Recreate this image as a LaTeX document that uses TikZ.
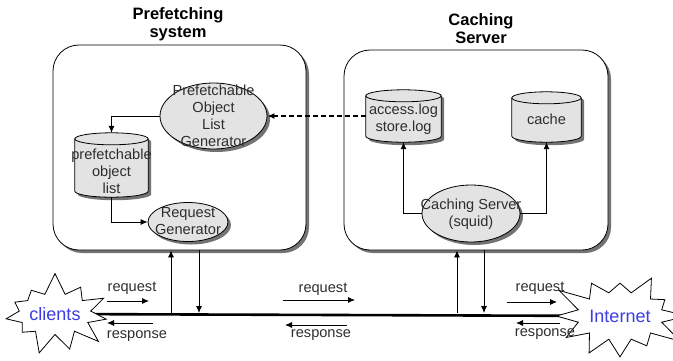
\documentclass[tikz,border=0pt]{standalone}
\usepackage{fontspec}
\setmainfont{Liberation Sans}
\usetikzlibrary{shapes.geometric,shapes.symbols,shadows,arrows.meta,calc}
\pgfdeclarelayer{bg}
\pgfsetlayers{bg,main}
\definecolor{shapefill}{gray}{0.89}
\definecolor{txt}{gray}{0.18}
\definecolor{starblue}{RGB}{60,60,225}
\tikzset{
  shd/.style={drop shadow={shadow xshift=3pt,shadow yshift=-3pt,fill=black!55,opacity=1}},
  sys/.style={draw,line width=0.8pt,rounded corners=26pt,fill=white,shd,inner sep=0pt},
  proc/.style={ellipse,draw,line width=0.8pt,fill=shapefill,inner sep=0pt,shd},
  storebox/.style={rectangle,inner sep=0pt},
  txtlbl/.style={font=\fontsize{14.6}{17}\selectfont,text=txt,align=center,inner sep=0pt},
  ttl/.style={font=\fontsize{16.5}{18}\selectfont\bfseries,align=center,inner sep=0pt},
  arr/.style={-{Latex[length=7pt,width=6pt]},line width=0.8pt},
  burst/.style={starburst,draw,fill=white,line width=0.8pt,inner sep=0pt,
    font=\fontsize{18}{20}\selectfont,text=starblue},
  bus/.style={line width=2.6pt}
}
% draw a cylinder filling the box of node #1, cap half-height #2 (pt)
\newcommand{\drawcyl}[2]{%
  \fill[black!55] let \p1=(#1.north west), \p2=(#1.south east), \n1={(\x2-\x1)/2} in
    (\x1+3pt,\y1-#2-3pt) -- (\x1+3pt,\y2+#2-3pt)
      arc[start angle=180,end angle=360,x radius=\n1,y radius=#2]
      -- (\x2+3pt,\y1-#2-3pt)
      arc[start angle=0,end angle=180,x radius=\n1,y radius=#2] -- cycle;
  \draw[line width=0.8pt,fill=shapefill] let \p1=(#1.north west), \p2=(#1.south east), \n1={(\x2-\x1)/2} in
    (\x1,\y1-#2) -- (\x1,\y2+#2)
      arc[start angle=180,end angle=360,x radius=\n1,y radius=#2]
      -- (\x2,\y1-#2)
      arc[start angle=0,end angle=180,x radius=\n1,y radius=#2] -- cycle;
  \draw[line width=0.8pt] let \p1=(#1.north west), \p2=(#1.south east), \n1={(\x2-\x1)/2} in
    (\x1,\y1-#2)
      arc[start angle=180,end angle=360,x radius=\n1,y radius=#2];
}
\begin{document}
\begin{tikzpicture}[x=1pt,y=-1pt]
\useasboundingbox (0,0) rectangle (673,360);

% titles
\node[ttl] (tl) at (178,24) {Prefetching\\system};
\node[ttl] (tr) at (481,29) {Caching\\Server};

% system boxes
\node[sys,minimum width=253pt,minimum height=205pt] (boxL) at (179.5,147.5) {};
\node[sys,minimum width=264pt,minimum height=200pt] (boxR) at (476,150) {};

% prefetching system parts
\node[proc,minimum width=107pt,minimum height=66pt] (gen) at (213.5,116) {};
\node[txtlbl] (gent) at (213.5,116) {Prefetchable\\Object\\List\\Generator};
\node[storebox,minimum width=73pt,minimum height=64pt] (plist) at (111.5,165) {};
\drawcyl{plist}{6pt}
\node[txtlbl] (plistt) at (111.5,171) {prefetchable\\object\\list};
\node[proc,minimum width=80pt,minimum height=39pt] (reqgen) at (188,222) {};
\node[txtlbl] (reqgent) at (188,221) {Request\\Generator};

% caching server parts
\node[storebox,minimum width=75pt,minimum height=52pt] (alog) at (403.5,116) {};
\drawcyl{alog}{6pt}
\node[txtlbl] (alogt) at (403.5,119) {access.log\\store.log};
\node[storebox,minimum width=69pt,minimum height=50pt] (cache) at (546.5,117) {};
\drawcyl{cache}{6pt}
\node[txtlbl] (cachet) at (546.5,119) {cache};
\node[proc,minimum width=98pt,minimum height=57pt] (squid) at (471,213.5) {};
\node[txtlbl] (squidt) at (471,214) {Caching Server\\(squid)};

% internal connectors
\draw[arr] (gen.west) -| (plist.north);
\draw[arr] (plist.south) |- (reqgen.west);
\draw[arr,line width=1.6pt,dash pattern=on 5pt off 3pt] (alog.west) -- (gen.east);
\draw[arr] (squid.west) -| (alog.south);
\draw[arr] (squid.east) -| (cache.south);

% clouds (bursts)
\node[burst,starburst points=11,starburst point height=22pt,random starburst=7,
      minimum width=96pt,minimum height=85pt] (clients) at (55,314) {clients};
\node[burst,starburst points=12,starburst point height=28pt,random starburst=3,
      minimum width=133pt,minimum height=104pt] (internet) at (620,316) {Internet};

% bus
\begin{pgfonlayer}{bg}
\draw[bus] (clients.center) -- (internet.center);
\end{pgfonlayer}
\coordinate (busLu) at (171,313);
\coordinate (busLd) at (199,313);
\coordinate (busRu) at (457,313);
\coordinate (busRd) at (484,313);
\draw[arr] (busLu) -- (busLu |- boxL.south);
\draw[arr] (boxL.south -| busLd) -- (busLd);
\draw[arr] (busRu) -- (busRu |- boxR.south);
\draw[arr] (boxR.south -| busRd) -- (busRd);

% request / response
\node[txtlbl] (rq1) at (132,288) {request};
\coordinate (rq1a) at (107,301); \coordinate (rq1b) at (149,301);
\draw[arr] (rq1a) -- (rq1b);
\node[txtlbl] (rs1) at (137,336) {response};
\coordinate (rs1a) at (153,323); \coordinate (rs1b) at (107,323);
\draw[arr] (rs1a) -- (rs1b);

\node[txtlbl] (rq2) at (323,289) {request};
\coordinate (rq2a) at (283,300); \coordinate (rq2b) at (355,300);
\draw[arr] (rq2a) -- (rq2b);
\node[txtlbl] (rs2) at (321,335) {response};
\coordinate (rs2a) at (347,325); \coordinate (rs2b) at (285,325);
\draw[arr] (rs2a) -- (rs2b);

\node[txtlbl] (rq3) at (540,288) {request};
\coordinate (rq3a) at (507,302); \coordinate (rq3b) at (557,302);
\draw[arr] (rq3a) -- (rq3b);
\node[txtlbl] (rs3) at (545,334) {response};
\coordinate (rs3a) at (560,323); \coordinate (rs3b) at (516,323);
\draw[arr] (rs3a) -- (rs3b);
\end{tikzpicture}
\end{document}
